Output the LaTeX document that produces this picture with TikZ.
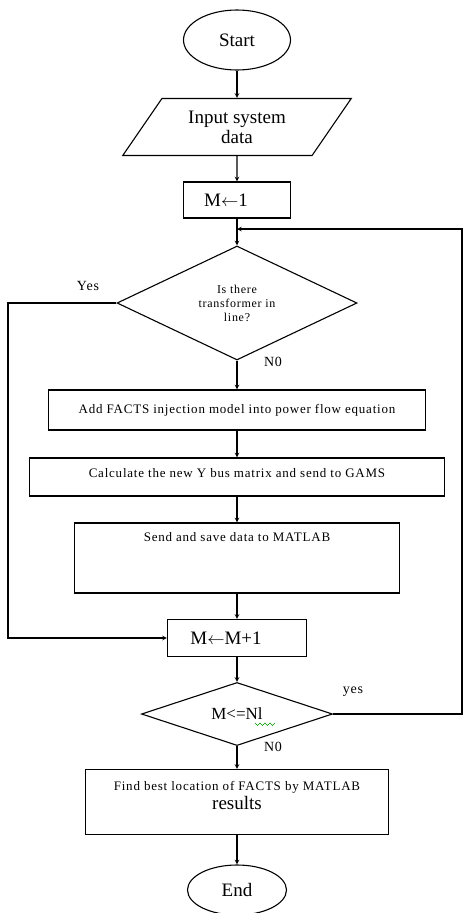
\documentclass[tikz,border=0pt]{standalone}
\usepackage{fontspec}
\setmainfont{Liberation Serif}
\newfontfamily\boxfont[LetterSpace=6]{Liberation Serif}
\usetikzlibrary{shapes.geometric,positioning}

\begin{document}
\begin{tikzpicture}[x=1pt,y=1pt,node distance=80pt,on grid,line width=1.1pt,
        term/.style={ellipse,draw,inner sep=0pt,font=\fontsize{19}{20}\selectfont},
        io/.style={trapezium,trapezium left angle=52,trapezium right angle=128,trapezium stretches=true,draw,align=center,inner sep=0pt,font=\fontsize{19}{20}\selectfont},
        proc/.style={rectangle,draw,align=center,inner sep=0pt,font=\boxfont\fontsize{13}{19}\selectfont},
        bigproc/.style={rectangle,draw,inner sep=0pt,font=\fontsize{19}{20}\selectfont},
        test/.style={diamond,draw,align=center,inner sep=0pt},
        lbl/.style={font=\boxfont\fontsize{14}{14}\selectfont}]
        \useasboundingbox (0,0) rectangle (464,-913);
        \node[term,minimum width=107pt,minimum height=60pt] (start) at (237,-40) {Start};
        \node[io,minimum width=229pt,minimum height=57pt] (input) [below=87pt of start] {Input system\\data};
        \node[bigproc,minimum width=107pt,minimum height=36pt] (m1) [below=73pt of input] {M$\leftarrow$1\hspace*{22pt}};
        \coordinate[below=29pt of m1] (jn);
        \node[test,minimum width=240pt,minimum height=114pt,font=\boxfont\fontsize{12}{14}\selectfont] (dia1) [below=103pt of m1] {Is there\\transformer in\\line?};
        \node[proc,minimum width=377pt,minimum height=40pt] (add) [below=107pt of dia1] {Add FACTS injection model into power flow equation};
        \node[proc,minimum width=415pt,minimum height=38pt,text depth=9pt] (calc) [below=67pt of add] {Calculate the new Y bus matrix and send to GAMS};
        \node[proc,minimum width=325pt,minimum height=70pt,text depth=42pt] (send) [below=81pt of calc] {Send and save data to MATLAB};
        \node[bigproc,minimum width=139pt,minimum height=37pt] (inc) [below=80pt of send] {M$\leftarrow$M+1\hspace*{22pt}};
        \node[test,minimum width=191pt,minimum height=57pt,font=\fontsize{17}{18}\selectfont] (dia2) [below=76pt of inc] {M<=Nl};
        \node[proc,minimum width=303pt,minimum height=65pt,text depth=13pt] (find) [below=88pt of dia2] {Find best location of FACTS by MATLAB\\{\rmfamily\fontsize{19}{20}\selectfont results}};
        \node[term,minimum width=99pt,minimum height=50pt] (end) [below=88pt of find] {End};
        \coordinate (lx) at (8,0);
        \coordinate (rx) at (462,0);
        \node[lbl] (yes1) at (88,-286) {Yes};
        \node[lbl] (no1) at (273,-362) {N0};
        \node[lbl] (yes2) at (353,-692) {yes};
        \node[lbl] (no2) at (273,-747) {N0};
         \path[-stealth]
         (start) edge (input)
         (input) edge (m1)
         (m1) edge (dia1)
         (dia1) edge (add)
         (add) edge (calc)
         (calc) edge (send)
         (send) edge (inc)
         (inc) edge (dia2)
         (dia2) edge (find)
         (find) edge (end);
        \draw[-stealth] (dia1.west) -- (dia1.west -| lx) |- (inc.west);
        \draw[-stealth] (dia2.east) -- (dia2.east -| rx) |- (jn);
        \draw[green!60!black,line width=0.6pt] ([shift={(18,-9)}]dia2.center) -- ++(2.5,-2.5) -- ++(2.5,2.5) -- ++(2.5,-2.5) -- ++(2.5,2.5) -- ++(2.5,-2.5) -- ++(2.5,2.5) -- ++(2.5,-2.5) -- ++(2.5,2.5);
\end{tikzpicture}
\end{document}
